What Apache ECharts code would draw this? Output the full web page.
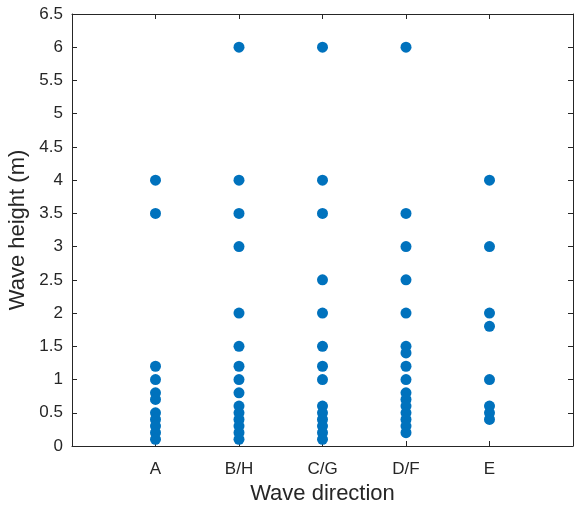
<!DOCTYPE html>
<html>
<head>
<meta charset="utf-8">
<script src="https://cdn.jsdelivr.net/npm/echarts@6/dist/echarts.min.js"></script>
<style>
  html, body { margin: 0; padding: 0; background: #fff; }
  #chart { width: 574px; height: 510px; }
</style>
</head>
<body>
<div id="chart"></div>
<script>
// directions, plotted at x = 1..5
var directions = ['A', 'B/H', 'C/G', 'D/F', 'E'];

// wave heights (m) observed for each direction
var heightsA  = [4, 3.5, 1.2, 1, 0.8, 0.7, 0.5, 0.4, 0.3, 0.2, 0.1];
var heightsBH = [6, 4, 3.5, 3, 2, 1.5, 1.2, 1, 0.8, 0.6, 0.5, 0.4, 0.3, 0.2, 0.1];
var heightsCG = [6, 4, 3.5, 2.5, 2, 1.5, 1.2, 1, 0.6, 0.5, 0.4, 0.3, 0.2, 0.1];
var heightsDF = [6, 3.5, 3, 2.5, 2, 1.5, 1.4, 1.2, 1, 0.8, 0.7, 0.6, 0.5, 0.4, 0.3, 0.2];
var heightsE  = [4, 3, 2, 1.8, 1, 0.6, 0.5, 0.4];

var allHeights = [heightsA, heightsBH, heightsCG, heightsDF, heightsE];
var points = [];
allHeights.forEach(function (list, i) {
    list.forEach(function (h) {
        points.push([i + 1, h]);
    });
});

var chart = echarts.init(document.getElementById('chart'));
var font = 'Liberation Sans, Arial, sans-serif';
var ink = '#262626';
var lineStyle = { color: ink, width: 1 };
var xTickPos = [1, 2, 3, 4, 5];

chart.setOption({
    animation: false,
    grid: {
        left: 72, right: 1, top: 14, bottom: 64,
        outerBoundsMode: 'none'
    },
    xAxis: [{
        type: 'value', min: 0, max: 6, interval: 1,
        name: 'Wave direction', nameLocation: 'middle', nameGap: 35,
        nameTextStyle: { fontSize: 22, color: ink, fontFamily: font },
        axisLine: { onZero: false, lineStyle: lineStyle },
        axisTick: { inside: true, length: 5, lineStyle: lineStyle, customValues: xTickPos },
        axisLabel: {
            fontSize: 17, color: ink, fontFamily: font, margin: 15,
            customValues: xTickPos,
            formatter: function (v) { return directions[v - 1] || ''; }
        },
        splitLine: { show: false }
    }, {
        type: 'value', min: 0, max: 6, interval: 1, position: 'top',
        axisLine: { onZero: false, lineStyle: lineStyle },
        axisTick: { inside: true, length: 5, lineStyle: lineStyle, customValues: xTickPos },
        axisLabel: { show: false },
        splitLine: { show: false }
    }],
    yAxis: [{
        type: 'value', min: 0, max: 6.5, interval: 0.5,
        name: 'Wave height (m)', nameLocation: 'middle', nameGap: 37,
        nameTextStyle: { fontSize: 22, color: ink, fontFamily: font },
        axisLine: { show: true, onZero: false, lineStyle: lineStyle },
        axisTick: { show: true, inside: true, length: 5, lineStyle: lineStyle },
        axisLabel: { fontSize: 17, color: ink, fontFamily: font, margin: 9 },
        splitLine: { show: false }
    }, {
        type: 'value', min: 0, max: 6.5, interval: 0.5, position: 'right',
        axisLine: { show: true, onZero: false, lineStyle: lineStyle },
        axisTick: { show: true, inside: true, length: 5, lineStyle: lineStyle },
        axisLabel: { show: false },
        splitLine: { show: false }
    }],
    series: [{
        type: 'scatter',
        data: points,
        symbolSize: 11,
        itemStyle: { color: '#0072BD', opacity: 1 }
    }]
});
</script>
</body>
</html>
